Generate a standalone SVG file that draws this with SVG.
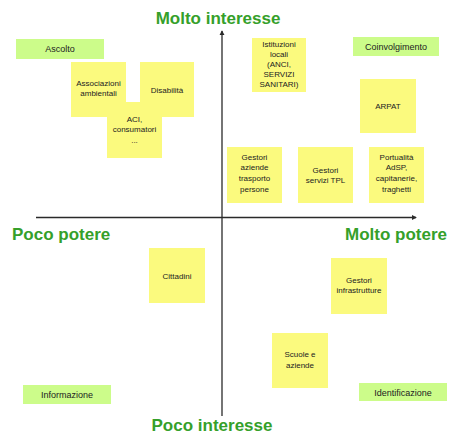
<svg xmlns="http://www.w3.org/2000/svg" width="450" height="436" viewBox="0 0 450 436">
<style>
.axis{stroke:#2a2a2a;stroke-width:1.3;fill:none}
.lbl{font-family:"Liberation Sans",Arial,sans-serif;font-weight:bold;font-size:17px;fill:#35a02a}
.y{fill:#fbfa7e}
.g{fill:#ccfc8a}
.t{font-family:"Liberation Sans",Arial,sans-serif;font-size:8px;fill:#222;text-anchor:middle}
.tg{font-family:"Liberation Sans",Arial,sans-serif;font-size:9px;fill:#222;text-anchor:middle}
</style>
<defs>
<marker id="ah" viewBox="0 0 6 6" refX="5" refY="3" markerWidth="4" markerHeight="4" orient="auto">
<path d="M0,0 L6,3 L0,6 z" fill="#2a2a2a"/>
</marker>
</defs>
<rect width="450" height="436" fill="#ffffff"/>
<g id="connectors">
<line class="axis" x1="222" y1="416" x2="222" y2="31" marker-end="url(#ah)"/>
<line class="axis" x1="36" y1="217.5" x2="416" y2="217.5" marker-end="url(#ah)"/>
</g>
<g id="axis-labels">
<text class="lbl" x="218" y="24" text-anchor="middle">Molto interesse</text>
<text class="lbl" x="12" y="240">Poco potere</text>
<text class="lbl" x="447" y="240" text-anchor="end">Molto potere</text>
<text class="lbl" x="212" y="431" text-anchor="middle">Poco interesse</text>
</g>
<g id="ascolto"><rect class="g" x="16" y="39" width="88" height="20"/><text class="tg" x="60" y="52">Ascolto</text></g>
<g id="coinvolgimento"><rect class="g" x="353" y="37" width="86" height="19"/><text class="tg" x="396" y="50">Coinvolgimento</text></g>
<g id="informazione"><rect class="g" x="23" y="385" width="88" height="19"/><text class="tg" x="67" y="398">Informazione</text></g>
<g id="identificazione"><rect class="g" x="359" y="383" width="88" height="18"/><text class="tg" x="403" y="395.5">Identificazione</text></g>
<g id="associazioni"><rect class="y" x="71" y="62" width="55" height="55"/><text class="t" x="98.5" y="86">Associazioni</text><text class="t" x="98.5" y="96">ambientali</text></g>
<g id="disabilita"><rect class="y" x="140" y="62" width="54" height="55"/><text class="t" x="167" y="93">Disabilità</text></g>
<g id="aci"><rect class="y" x="107" y="102" width="55" height="56"/><text class="t" x="134.5" y="122">ACI,</text><text class="t" x="134.5" y="132">consumatori</text><text class="t" x="134.5" y="143">...</text></g>
<g id="istituzioni"><rect class="y" x="252" y="38" width="54" height="54"/><text class="t" x="279" y="47">Istituzioni</text><text class="t" x="279" y="57">locali</text><text class="t" x="279" y="67">(ANCI,</text><text class="t" x="279" y="77">SERVIZI</text><text class="t" x="279" y="87">SANITARI)</text></g>
<g id="arpat"><rect class="y" x="360" y="79" width="56" height="54"/><text class="t" x="388" y="109">ARPAT</text></g>
<g id="gestori-aziende"><rect class="y" x="227" y="147" width="55" height="56"/><text class="t" x="254.5" y="160">Gestori</text><text class="t" x="254.5" y="170">aziende</text><text class="t" x="254.5" y="181">trasporto</text><text class="t" x="254.5" y="192">persone</text></g>
<g id="gestori-tpl"><rect class="y" x="298" y="147" width="55" height="56"/><text class="t" x="325.5" y="173">Gestori</text><text class="t" x="325.5" y="183">servizi TPL</text></g>
<g id="portualita"><rect class="y" x="369" y="147" width="55" height="56"/><text class="t" x="396.5" y="160">Portualità</text><text class="t" x="396.5" y="170">AdSP,</text><text class="t" x="396.5" y="181">capitanerie,</text><text class="t" x="396.5" y="192">traghetti</text></g>
<g id="cittadini"><rect class="y" x="149" y="248" width="56" height="55"/><text class="t" x="177" y="279">Cittadini</text></g>
<g id="gestori-infrastrutture"><rect class="y" x="331" y="258" width="56" height="56"/><text class="t" x="359" y="283">Gestori</text><text class="t" x="359" y="293">infrastrutture</text></g>
<g id="scuole"><rect class="y" x="272" y="333" width="56" height="55"/><text class="t" x="300" y="357">Scuole e</text><text class="t" x="300" y="368">aziende</text></g>
</svg>
